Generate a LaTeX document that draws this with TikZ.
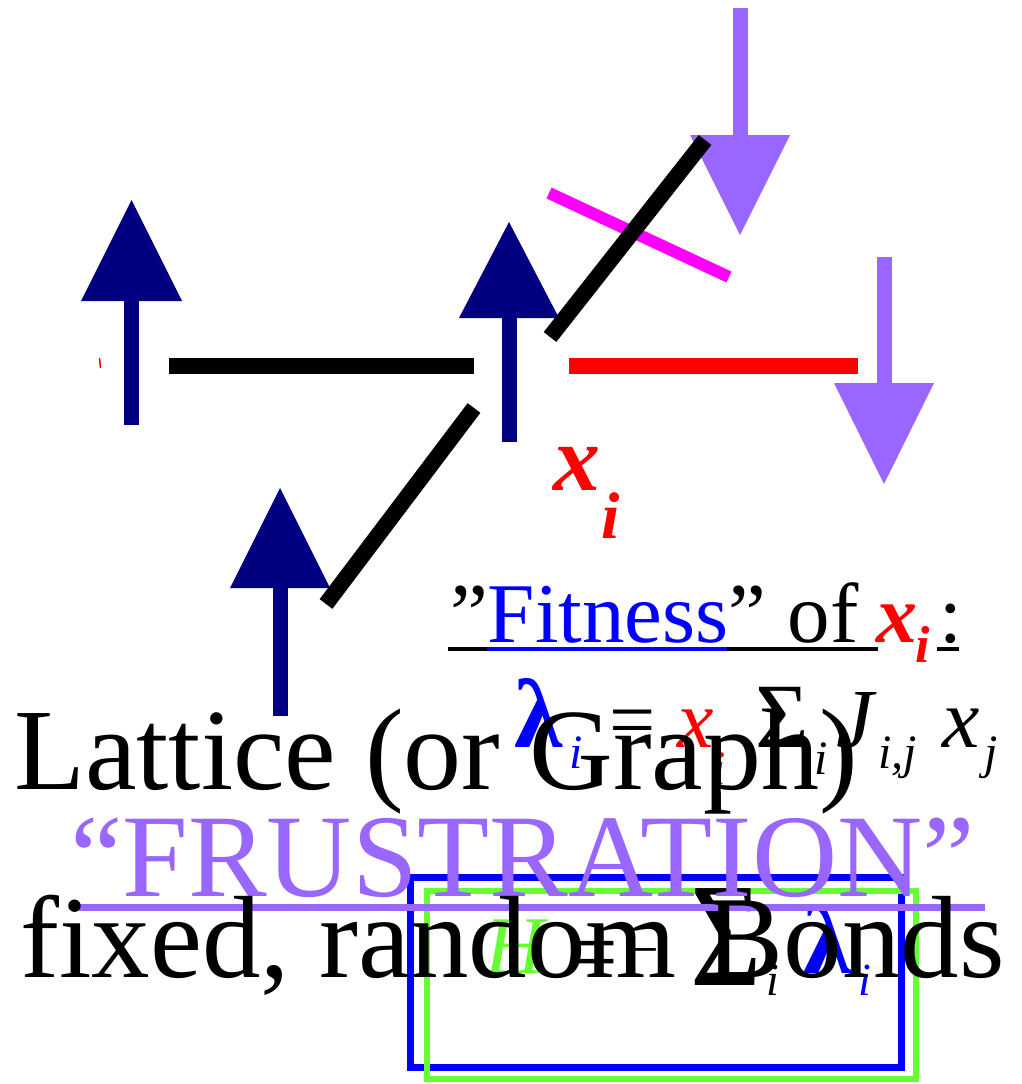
\documentclass[tikz,border=0pt]{standalone}
\usepackage{fontspec}
\setmainfont{Liberation Serif}
\usepackage{graphicx}
\usetikzlibrary{calc}
\definecolor{spinup}{RGB}{0,0,128}
\definecolor{spindown}{RGB}{153,102,255}
\definecolor{frustr}{RGB}{255,0,255}
\definecolor{hgreen}{RGB}{102,255,51}
\newcommand{\sz}[1]{\fontsize{#1}{#1}\selectfont}

\begin{document}
\begin{tikzpicture}[x=1pt,y=-1pt,
  bond/.style={line width=16pt},
  shaft/.style={line width=15pt},
  txt/.style={inner sep=0pt,anchor=base west},
  uline/.style={line width=4pt}]
  \useasboundingbox (0,0) rectangle (1022,1084);
  % spins and bonds
  \coordinate (s1) at (131.5,425); \coordinate (t1) at (131.5,200);
  \coordinate (s2) at (509,442);   \coordinate (t2) at (509,222);
  \coordinate (s3) at (280,716);   \coordinate (t3) at (280,488);
  \coordinate (s4) at (740,8);     \coordinate (t4) at (740,235);
  \coordinate (s5) at (884,257);   \coordinate (t5) at (884,484);
  \coordinate (b1) at (169,366); \coordinate (b2) at (474,366);
  \coordinate (b3) at (326,604); \coordinate (b4) at (474,408);
  \coordinate (b5) at (550,337); \coordinate (b6) at (705,140);
  \coordinate (b7) at (569,366); \coordinate (b8) at (858,366);
  \coordinate (f1) at (549,193); \coordinate (f2) at (729,277);
  \draw[spinup,shaft] (s1) -- ($(t1)+(0,100)$);
  \fill[spinup] (t1) -- ++(-50.5,101) -- ++(101,0) -- cycle;
  \draw[spinup,shaft] (s2) -- ($(t2)+(0,96)$);
  \fill[spinup] (t2) -- ++(-50,96) -- ++(100,0) -- cycle;
  \draw[spinup,shaft] (s3) -- ($(t3)+(0,100)$);
  \fill[spinup] (t3) -- ++(-50,100) -- ++(100,0) -- cycle;
  \draw[spindown,shaft] (s4) -- ($(t4)+(0,-100)$);
  \fill[spindown] (t4) -- ++(-50,-100) -- ++(100,0) -- cycle;
  \draw[spindown,shaft] (s5) -- ($(t5)+(0,-100)$);
  \fill[spindown] (t5) -- ++(-50,-101) -- ++(100,0) -- cycle;
  \draw[red,line width=1.5pt] (99.5,358) -- (100.5,368);
  \draw[frustr,line width=12pt] (f1) -- (f2);
  \draw[bond] (b1) -- (b2);
  \draw[bond] (b3) -- (b4);
  \draw[bond] (b5) -- (b6);
  \draw[bond,red] (b7) -- (b8);
  \node[txt,red,font=\sz{94}\bfseries\itshape] (xmid) at (553,490) {x};
  \node[txt,red,font=\sz{66}\bfseries\itshape] (xmidi) at (601,538) {i};
  % fitness
  \node[txt,font=\sz{85}] (fit) at (450,642) {”\textcolor{blue}{Fitness}” of};
  \node[txt,red,font=\sz{82}\bfseries\itshape] (fitx) at (876,642) {x};
  \node[txt,red,font=\sz{52}\bfseries\itshape] (fitxi) at (915,662) {i};
  \node[txt,font=\sz{82}] (fitc) at (939,642) {:};
  \draw[uline] (448,649) -- (487,649);
  \draw[uline,blue] (487,649) -- (727,649);
  \draw[uline] (727,649) -- (878,649);
  \draw[uline] (937,649) -- (959,649);
  \node[txt,blue,font=\sz{98}\bfseries] (lam) at (514,747) {λ};
  \node[txt,blue,font=\sz{48}\itshape] (lami) at (569,768) {i};
  \node[txt,font=\sz{82}] (eq) at (609,747) {=};
  \node[txt,red,font=\sz{82}\itshape] (xi) at (677,747) {x};
  \node[txt,red,font=\sz{48}\itshape] (xii) at (712,784) {i};
  \node[txt,font=\sz{92}] (sum) at (755,747) {Σ};
  \node[txt,font=\sz{48}\itshape] (sumi) at (814,774) {i};
  \node[txt,font=\sz{84}\itshape] (jij) at (836,747) {J};
  \node[txt,font=\sz{48}\itshape] (jiji) at (878,768) {i,j};
  \node[txt,font=\sz{84}\itshape] (xj) at (942,747) {x};
  \node[txt,font=\sz{48}\itshape] (xjj) at (984,768) {j};
  \node[txt,font=\sz{116}] (lattice) at (14,789) {Lattice (or Graph)};
  % hamiltonian
  \draw[blue,line width=7pt] (410,877) rectangle (901,1067);
  \draw[hgreen,line width=6pt] (427,891) rectangle (916,1079);
  \node[txt,hgreen,font=\sz{82}\itshape] (ham) at (485,973) {H};
  \node[txt,font=\sz{90}] (heq) at (567,982) {=};
  \node[txt,font=\sz{56}] (hmin) at (627,968) {−};
  \node[txt,font=\sz{148}] (hsum) at (690,985) {\scalebox{0.83}[1]{Σ}};
  \node[txt,font=\sz{46}\itshape] (hsumi) at (766,995) {i};
  \node[txt,blue,font=\sz{98}\bfseries] (hlam) at (803,973) {λ};
  \node[txt,blue,font=\sz{46}\itshape] (hlami) at (858,995) {i};
  \node[txt,spindown,font=\sz{118}] (frus) at (70,896) {“FRUSTRATION”};
  \draw[spindown,line width=7pt] (78,907) -- (985,907);
  \node[txt,font=\sz{117}] (bonds) at (20,977) {fixed, random Bonds};
\end{tikzpicture}
\end{document}
